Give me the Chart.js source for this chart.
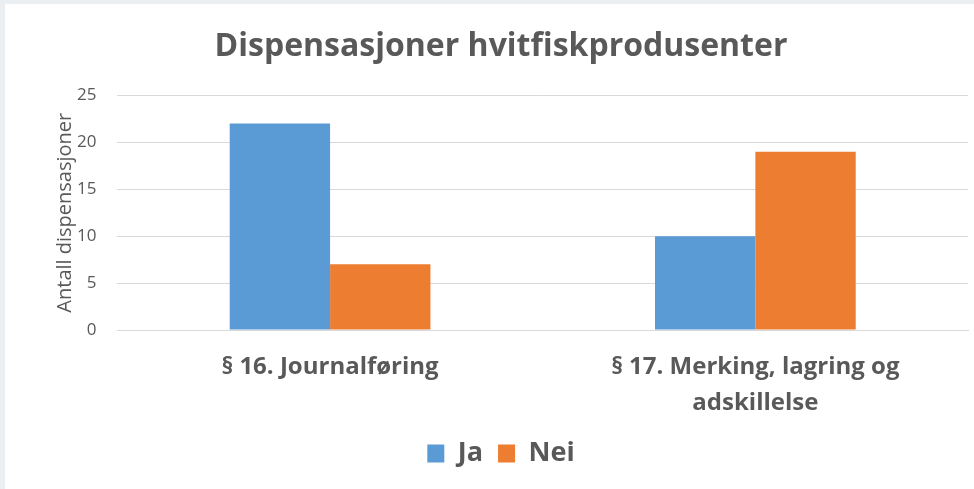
<!DOCTYPE html>
<html>
<head>
<meta charset="utf-8">
<script src="https://cdn.jsdelivr.net/npm/chart.js@4"></script>
<style>
  html, body { margin: 0; padding: 0; background: #eceff1; }
  .wrap { position: absolute; left: 5px; top: 4px; width: 969px; height: 485px; background: #fff; }
</style>
</head>
<body>
<div class="wrap"><canvas id="chart" width="969" height="485"></canvas></div>
<script>
// data
var categories = ["§ 16. Journalføring", ["§ 17. Merking, lagring og", "adskillelse"]];
var jaValues = [22, 10];
var neiValues = [7, 19];
var seriesNames = ["Ja", "Nei"];
var yTicks = [0, 5, 10, 15, 20, 25];

var grey = "#595959";
var font = "'Open Sans'";

var ctx = document.getElementById("chart");
var chart = new Chart(ctx, {
  type: "bar",
  data: {
    labels: categories,
    datasets: [
      { label: seriesNames[0], data: jaValues, backgroundColor: "#5B9BD5" },
      { label: seriesNames[1], data: neiValues, backgroundColor: "#ED7D31" }
    ]
  },
  options: {
    responsive: false,
    animation: false,
    layout: { padding: { left: 29, right: 6, top: 24, bottom: 12 } },
    datasets: { bar: { categoryPercentage: 0.472, barPercentage: 1 } },
    plugins: {
      title: {
        display: true,
        text: "Dispensasjoner hvitfiskprodusenter",
        color: grey,
        font: { family: font, size: 32, weight: "bold" },
        padding: { top: 0, bottom: 29 }
      },
      legend: {
        position: "bottom",
        labels: {
          color: grey,
          font: { family: font, size: 27, weight: "bold" },
          boxWidth: 17,
          boxHeight: 18,
          padding: 15
        }
      },
      tooltip: { enabled: false }
    },
    scales: {
      x: {
        grid: { display: false, drawTicks: false },
        border: { display: true, color: "#D9D9D9" },
        ticks: {
          color: grey,
          font: { family: font, size: 24, weight: "bold", lineHeight: 1.5 },
          padding: 19,
          maxRotation: 0
        },
        afterFit: function (axis) {
          axis.height -= 15;
        }
      },
      y: {
        min: 0,
        max: 25,
        afterBuildTicks: function (axis) {
          axis.ticks = yTicks.map(function (v) { return { value: v }; });
        },
        grid: { color: "#D9D9D9", drawTicks: false },
        border: { display: false },
        ticks: {
          color: grey,
          font: { family: font, size: 17 },
          padding: 21
        },
        title: {
          display: true,
          text: "Antall dispensasjoner",
          color: grey,
          font: { family: font, size: 20 },
          padding: { top: 19, bottom: -21 }
        }
      }
    }
  }
});
</script>
</body>
</html>
